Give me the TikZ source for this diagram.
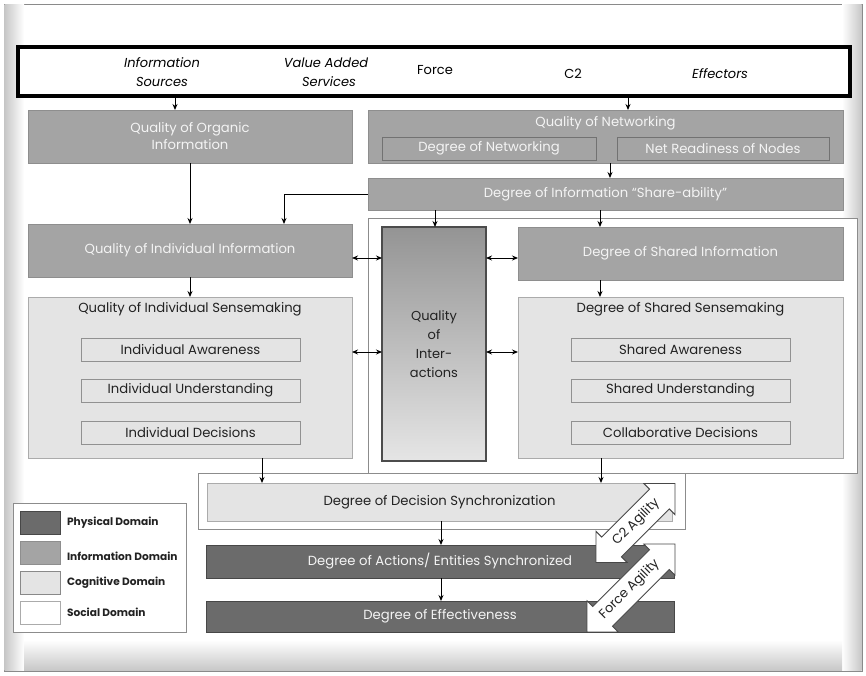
\documentclass[tikz,border=0pt]{standalone}
\usepackage{fontspec}
\setmainfont{Poppins}
\usetikzlibrary{arrows.meta,calc}
\definecolor{phys}{HTML}{6B6B6B}
\definecolor{physd}{HTML}{474747}
\definecolor{info}{HTML}{A4A4A4}
\definecolor{infod}{HTML}{8E8E8E}
\definecolor{cogn}{HTML}{E4E4E4}
\definecolor{cognd}{HTML}{ABABAB}
\definecolor{socd}{HTML}{8C8C8C}
\definecolor{txtw}{HTML}{F4F4F4}
\definecolor{txtd}{HTML}{222222}
\definecolor{frame}{HTML}{8A8A8A}
\begin{document}
\begin{tikzpicture}[x=1pt,y=-1pt,
  base/.style={rectangle, inner sep=0pt, outer sep=0pt, font=\fontsize{13.2}{17}\selectfont, align=center},
  infobox/.style={base, fill=info, draw=infod, line width=0.8pt, text=txtw},
  physbox/.style={base, fill=phys, draw=physd, line width=0.8pt, text=txtw},
  cogbox/.style={base, fill=cogn, draw=cognd, line width=0.8pt, text=txtd},
  subcog/.style={cogbox, draw=cognd!85!black, minimum width=219pt, minimum height=23pt},
  subinfo/.style={infobox, draw=infod!80!black, minimum height=23pt},
  socbox/.style={rectangle, fill=white, draw=socd, line width=0.8pt},
  title/.style={base, inner sep=1pt},
  hdrtxt/.style={base, font=\fontsize{13}{19}\selectfont, text=black},
  hdrit/.style={base, font=\itshape\fontsize{13}{19}\selectfont, text=black},
  legtxt/.style={base, anchor=west, font=\bfseries\fontsize{10.6}{12}\selectfont, text=txtd},
  swatch/.style={rectangle, draw=cognd!80!black, line width=0.8pt, minimum width=40pt, minimum height=23pt, inner sep=0pt},
  arr/.style={-{Stealth[length=6pt,width=5pt]}, line width=0.9pt, black},
  darr/.style={{Stealth[length=6pt,width=5pt]}-{Stealth[length=6pt,width=5pt]}, line width=0.9pt, black},
  agil/.style={fill=white, draw=physd, line width=0.9pt, line join=miter},
  agtxt/.style={base, text=txtd, font=\fontsize{13}{14}\selectfont},
]
\useasboundingbox (0,0) rectangle (866,675);
% outer frame with soft shading
\fill[white] (0,0) rectangle (866,675);
\filldraw[fill=white, draw=frame, line width=0.8pt] (4,4) rectangle (862,671);
\shade[left color=black!22, right color=white] (4.5,4.5) rectangle (24,670.5);
\shade[left color=white, right color=black!22] (842,4.5) rectangle (861.5,670.5);
\shade[top color=white, bottom color=black!22] (24,640) rectangle (842,670.5);

% header
\node[rectangle, draw=black, line width=4pt, fill=white, minimum width=832pt, minimum height=49pt, inner sep=0pt] (hdr) at (434,71.5) {};
\node[hdrit] (hsrc) at (162,72) {Information\\Sources};
\node[hdrit] (hvas) at (326,72) {Value Added\\\hspace*{6pt}Services};
\node[hdrtxt] (hforce) at (435,70) {Force};
\node[hdrtxt] (hc2) at (573,74) {C2};
\node[hdrit] (heff) at (720,74) {Effectors};

% social domain frames
\node[socbox, minimum width=489pt, minimum height=255pt] (soc1) at (612.5,345.5) {};
\node[socbox, minimum width=487pt, minimum height=56pt] (soc2) at (441.5,501) {};

% information domain
\node[infobox, minimum width=324pt, minimum height=53pt] (org) at (190,136.5) {Quality of Organic\\Information};
\node[infobox, minimum width=475pt, minimum height=53pt] (net) at (605.5,136.5) {};
\node[title, text=txtw] (nettitle) at (605.5,123) {Quality of Networking};
\node[subinfo, minimum width=214pt] (dnet) at (489,148.5) {Degree of Networking};
\node[subinfo, minimum width=212pt] (nrn) at (723,148.5) {Net Readiness of Nodes};
\node[infobox, minimum width=475pt, minimum height=32pt] (share) at (605.5,194) {Degree of Information “Share-ability”};
\node[infobox, minimum width=324pt, minimum height=53pt] (indinfo) at (190,250.5) {Quality of Individual Information};
\node[infobox, minimum width=325pt, minimum height=53pt] (shinfo) at (680.5,253.5) {Degree of Shared Information};

% interactions
\node[base, top color=black!42, bottom color=black!10, draw=black!70, line width=1.4pt, minimum width=104pt, minimum height=234pt, text=txtd, font=\fontsize{13}{19}\selectfont] (inter) at (434,344) {Quality\\of\\Inter-\\actions};

% cognitive domain
\node[cogbox, minimum width=324pt, minimum height=161pt] (indsense) at (190,377.5) {};
\node[title, text=txtd] (indtitle) at (190,309) {Quality of Individual Sensemaking};
\node[subcog] (ia) at (190.5,349.5) {Individual Awareness};
\node[subcog] (iu) at (190.5,390.5) {Individual Understanding};
\node[subcog] (id) at (190.5,432.5) {Individual Decisions};
\node[cogbox, minimum width=325pt, minimum height=161pt] (shsense) at (680.5,377.5) {};
\node[title, text=txtd] (shtitle) at (680.5,309) {Degree of Shared Sensemaking};
\node[subcog] (sa) at (680.5,349.5) {Shared Awareness};
\node[subcog] (su) at (680.5,390.5) {Shared Understanding};
\node[subcog] (cd) at (680.5,432.5) {Collaborative Decisions};
\node[cogbox, minimum width=465pt, minimum height=38pt] (dsync) at (439.5,502) {Degree of Decision Synchronization};

% physical domain
\node[physbox, minimum width=468pt, minimum height=33pt] (act) at (440,561.5) {Degree of Actions/ Entities Synchronized};
\node[physbox, minimum width=468pt, minimum height=31pt] (eff) at (440,616.5) {Degree of Effectiveness};

% helper positions
\coordinate (x175) at (175,0);
\coordinate (x628) at (628,0);
\coordinate (x610) at (610,0);
\coordinate (x284) at (284,0);
\coordinate (x435) at (435,0);
\coordinate (x600) at (600,0);
\coordinate (x262) at (262,0);
\coordinate (x601) at (601,0);
\coordinate (x441) at (441,0);
\coordinate (y258) at (0,258);
\coordinate (y352) at (0,352);

% connectors
\draw[arr] (hdr.south -| x175) -- (org.north -| x175);
\draw[arr] (hdr.south -| x628) -- (net.north -| x628);
\draw[arr] (net.south -| x610) -- (share.north -| x610);
\draw[arr] (org.south) -- (indinfo.north);
\draw[arr] (share.west) -| (indinfo.north -| x284);
\draw[arr] (share.south -| x435) -- (inter.north -| x435);
\draw[arr] (share.south -| x600) -- (shinfo.north -| x600);
\draw[arr] (indinfo.south) -- (indsense.north);
\draw[arr] (shinfo.south -| x600) -- (shsense.north -| x600);
\draw[darr] (indinfo.east |- y258) -- (inter.west |- y258);
\draw[darr] (indsense.east |- y352) -- (inter.west |- y352);
\draw[darr] (inter.east |- y258) -- (shinfo.west |- y258);
\draw[darr] (inter.east |- y352) -- (shsense.west |- y352);
\draw[arr] (indsense.south -| x262) -- (dsync.north -| x262);
\draw[arr] (shsense.south -| x601) -- (dsync.north -| x601);
\draw[arr] (dsync.south -| x441) -- (act.north -| x441);
\draw[arr] (act.south -| x441) -- (eff.north -| x441);

% agility arrows
\begin{scope}[shift={(635.5,523)}, rotate=45]
  \draw[agil] (-55.85,0) -- (-33.85,22) -- (-33.85,14) -- (33.85,14) -- (33.85,22) -- (55.85,0) -- (33.85,-22) -- (33.85,-14) -- (-33.85,-14) -- (-33.85,-22) -- cycle;
  \node[agtxt, rotate=45] (c2ag) at (1,0) {C2 Agility};
\end{scope}
\begin{scope}[shift={(631,588)}, rotate=45]
  \draw[agil] (-62.2,0) -- (-40.2,22) -- (-40.2,14) -- (40.2,14) -- (40.2,22) -- (62.2,0) -- (40.2,-22) -- (40.2,-14) -- (-40.2,-14) -- (-40.2,-22) -- cycle;
  \node[agtxt, rotate=45] (forag) at (-2,0) {Force Agility};
\end{scope}

% legend
\node[rectangle, fill=white, draw=socd, line width=0.8pt, minimum width=173pt, minimum height=129pt, inner sep=0pt] (leg) at (99.5,567.5) {};
\node[swatch, fill=phys, draw=physd] (swp) at (40,522.5) {};
\node[swatch, fill=info, draw=infod] (swi) at (40,553) {};
\node[swatch, fill=cogn] (swc) at (40,583) {};
\node[swatch, fill=white, draw=cognd] (sws) at (40,613) {};
\node[legtxt] (lp) at (67,522.5) {Physical Domain};
\node[legtxt] (li) at (67,556) {Information Domain};
\node[legtxt] (lc) at (67,583) {Cognitive Domain};
\node[legtxt] (ls) at (67,612) {Social Domain};
\end{tikzpicture}
\end{document}
